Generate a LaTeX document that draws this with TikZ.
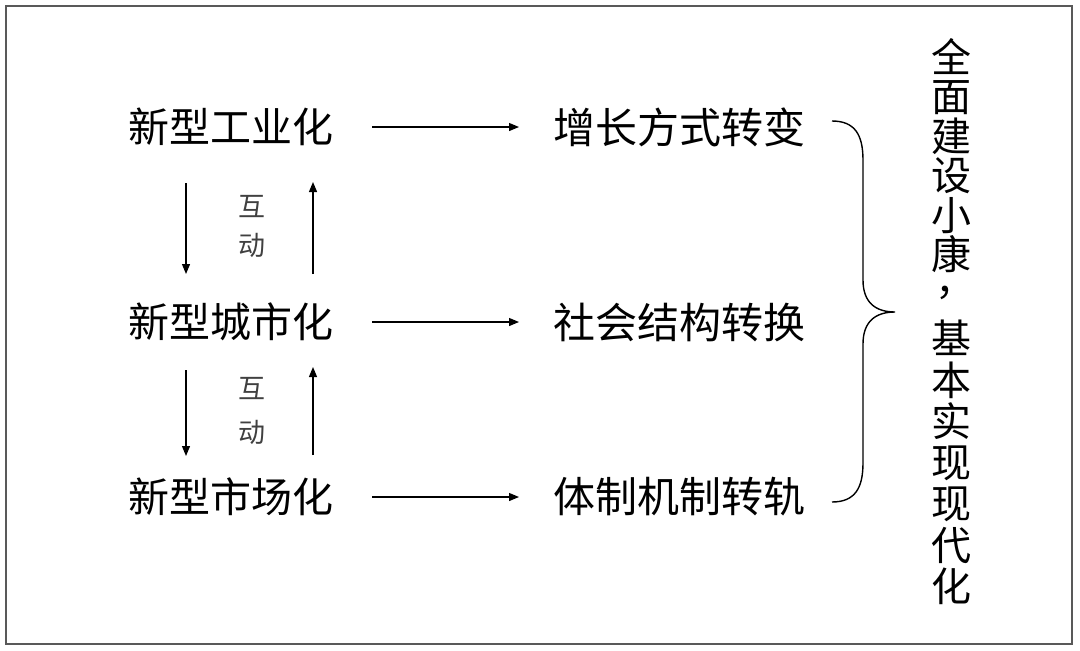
\documentclass[tikz,border=0pt]{standalone}
\usepackage{fontspec}
\newfontfamily\cjk{Noto Sans CJK SC}
\usetikzlibrary{arrows.meta}
\begin{document}
\begin{tikzpicture}[x=1pt,y=-1pt,
  lbl/.style={font=\cjk\fontsize{41}{41}\selectfont, inner sep=0pt, anchor=center},
  rlbl/.style={font=\cjk\fontsize{42}{42}\selectfont, inner sep=0pt, anchor=center},
  small/.style={font=\cjk\fontsize{27}{27}\selectfont, text=black!75, inner sep=0pt},
  arr/.style={-{Triangle[length=10pt,width=8pt]}, line width=1.2pt},
  vtext/.style={font=\cjk\fontsize{40}{39.5}\selectfont, align=center, inner sep=0pt}]
\useasboundingbox (0,0) rectangle (1080,651);
\fill[white] (0,0) rectangle (1080,651);
\draw[black!65, line width=1.5pt] (6,6) rectangle (1072,644);

\node[lbl] (a1) at (231,127) {新型工业化};
\node[lbl] (a2) at (231,322) {新型城市化};
\node[lbl] (a3) at (231,497) {新型市场化};

\node[rlbl] (b1) at (679,127) {增长方式转变};
\node[rlbl] (b2) at (679,322) {社会结构转换};
\node[rlbl] (b3) at (679,497) {体制机制转轨};

\coordinate (p1) at (372,127); \coordinate (q1) at (519,127);
\coordinate (p2) at (372,322); \coordinate (q2) at (519,322);
\coordinate (p3) at (372,497); \coordinate (q3) at (519,497);

\coordinate (d1s) at (186,183); \coordinate (d1e) at (186,274);
\coordinate (u1s) at (313,274); \coordinate (u1e) at (313,182);
\coordinate (d2s) at (186,370); \coordinate (d2e) at (186,456);
\coordinate (u2s) at (313,455); \coordinate (u2e) at (313,367);

\draw[arr] (p1) -- (q1);
\draw[arr] (p2) -- (q2);
\draw[arr] (p3) -- (q3);
\draw[arr] (d1s) -- (d1e);
\draw[arr] (u1s) -- (u1e);
\draw[arr] (d2s) -- (d2e);
\draw[arr] (u2s) -- (u2e);

\node[small] (h1) at (252,207) {互};
\node[small] (m1) at (252,245) {动};
\node[small] (h2) at (252,389) {互};
\node[small] (m2) at (252,432) {动};

\coordinate (bt) at (832,121);
\coordinate (bb) at (832,502);
\coordinate (tip) at (895,312);
\draw[line width=1.4pt] (bt) .. controls (855,121) and (863,135) .. (863,160)
  -- (863,280) .. controls (863,302) and (875,312) .. (tip)
  .. controls (875,312) and (863,322) .. (863,344)
  -- (863,463) .. controls (863,488) and (855,502) .. (bb);

\node[vtext, anchor=north] (v) at (951,38) {全\\面\\建\\设\\小\\康\\[-13.5pt]\hspace*{8pt}，\hspace*{-8pt}\\[18.5pt]基\\[1.8pt]本\\[1.8pt]实\\[1.8pt]现\\[1.8pt]现\\[1.8pt]代\\[1.8pt]化};
\end{tikzpicture}
\end{document}
